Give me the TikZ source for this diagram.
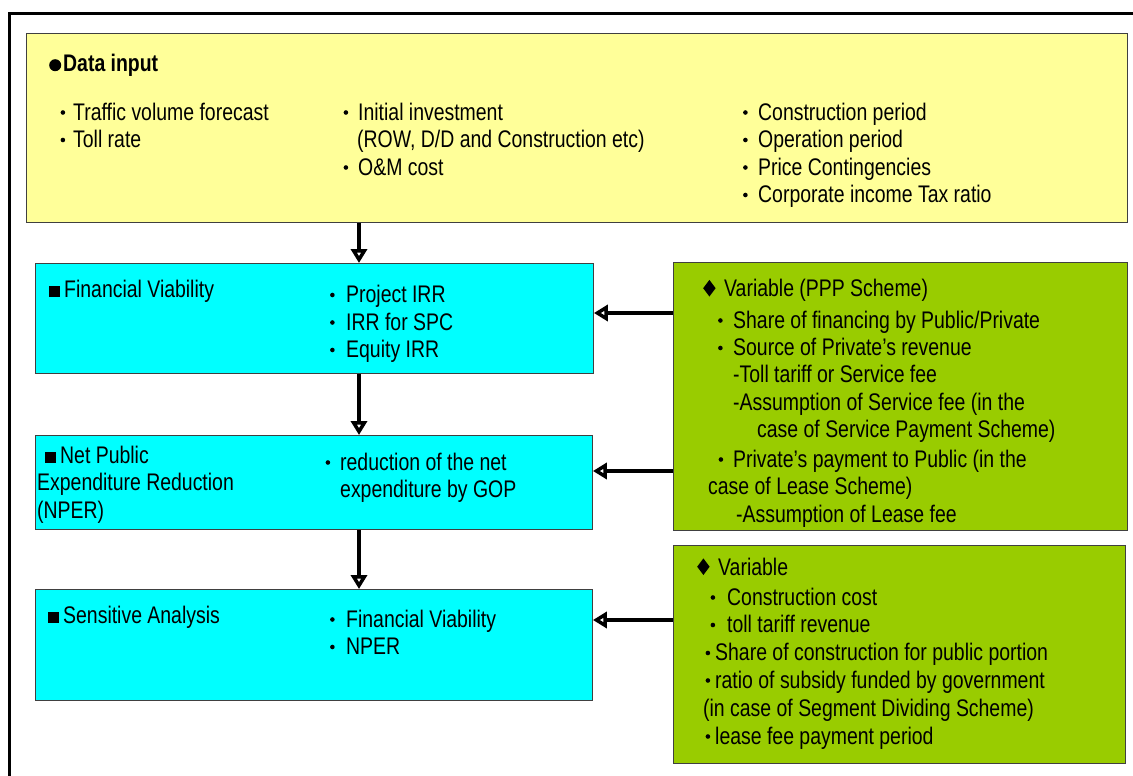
\documentclass[tikz,border=0pt]{standalone}
\usepackage{fontspec}
\setmainfont{Liberation Sans}[FakeStretch=0.81]
\usetikzlibrary{arrows.meta}

\definecolor{inputyellow}{HTML}{FFFF99}
\definecolor{stepcyan}{HTML}{00FFFF}
\definecolor{vargreen}{HTML}{99CC00}

% small round list dot placed left of the text start; #1 = gap to the text
\newcommand\dt[1]{\llap{\tikz[baseline=0pt]\fill (2.3pt,7.5pt) circle[radius=2.3pt];\hspace{#1pt}}}
% leading symbol whose left edge sits #1 pt before the text start
\newcommand\lead[2]{\llap{\makebox[#1pt][l]{#2}}}
\newcommand\sqmark{\rule{11pt}{11pt}}
\newcommand\circmark{\tikz[baseline=0pt]\fill (6pt,6.8pt) circle[radius=6pt];}
\newcommand\diamark{\tikz[baseline=0pt]\fill (0pt,8.3pt) -- (6.2pt,0pt) -- (12.4pt,8.3pt) -- (6.2pt,16.6pt) -- cycle;}

\tikzset{
  box/.style={draw=black!75, line width=0.9pt, anchor=north west, inner sep=0pt},
  txt/.style={anchor=base west, inner sep=0pt, font=\fontsize{24}{28}\selectfont},
  flow/.style={line width=4.5pt, -{Triangle[open, length=14pt, width=16pt, line width=3.8pt]}},
}

\begin{document}
\begin{tikzpicture}[x=1pt, y=-1pt]
\useasboundingbox (0,0) rectangle (1133,776);

% outer frame (open to the right and bottom)
\draw[line width=3pt] (9,776) -- (9,14) -- (1133,14);

% boxes
\node[box, fill=inputyellow, minimum width=1101pt, minimum height=189pt] (input) at (26,33) {};
\node[box, fill=stepcyan, minimum width=558pt, minimum height=110pt] (fin) at (35,263) {};
\node[box, fill=stepcyan, minimum width=557pt, minimum height=94pt] (nper) at (35,435) {};
\node[box, fill=stepcyan, minimum width=557pt, minimum height=111pt] (sens) at (35,589) {};
\node[box, fill=vargreen, minimum width=454pt, minimum height=268pt] (var1) at (673,262) {};
\node[box, fill=vargreen, minimum width=452pt, minimum height=218pt] (var2) at (673,545) {};

% data input
\node[txt] (d0) at (63,72) {\lead{14}{\circmark}\textbf{Data input}};
\node[txt] (d1) at (73,120) {\dt{8}Traffic volume forecast};
\node[txt] (d2) at (73,147.5) {\dt{8}Toll rate};
\node[txt] (d3) at (358,120) {\dt{10}Initial investment};
\node[txt] (d4) at (357,147.5) {(ROW, D/D and Construction etc)};
\node[txt] (d5) at (358,175) {\dt{10}O\&M cost};
\node[txt] (d6) at (758,120) {\dt{10.5}Construction period};
\node[txt] (d7) at (758,147.5) {\dt{10.5}Operation period};
\node[txt] (d8) at (758,175) {\dt{10.5}Price Contingencies};
\node[txt] (d9) at (758,202.5) {\dt{10.5}Corporate income Tax ratio};

% financial viability
\node[txt] (f0) at (64,297) {\lead{15}{\sqmark}Financial Viability};
\node[txt] (f1) at (346,302.5) {\dt{11.5}Project IRR};
\node[txt] (f2) at (346,330) {\dt{11.5}IRR for SPC};
\node[txt] (f3) at (346,357.5) {\dt{11.5}Equity IRR};

% net public expenditure reduction
\node[txt] (n0) at (60,463) {\lead{15}{\sqmark}Net Public};
\node[txt] (n1) at (37,490.5) {Expenditure Reduction};
\node[txt] (n2) at (37,518) {(NPER)};
\node[txt] (n3) at (340,470) {\dt{10}reduction of the net};
\node[txt] (n4) at (340,497.5) {expenditure by GOP};

% sensitive analysis
\node[txt] (s0) at (63,623) {\lead{15}{\sqmark}Sensitive Analysis};
\node[txt] (s1) at (346,627) {\dt{11.5}Financial Viability};
\node[txt] (s2) at (346,654.5) {\dt{11.5}NPER};

% PPP scheme variables
\node[txt] (v0) at (724,296.5) {\lead{21}{\diamark}Variable (PPP Scheme)};
\node[txt] (v1) at (733,328) {\dt{10.5}Share of financing by Public/Private};
\node[txt] (v2) at (733,355.5) {\dt{10.5}Source of Private's revenue};
\node[txt] (v3) at (733,382.5) {-Toll tariff or Service fee};
\node[txt] (v4) at (733,410) {-Assumption of Service fee (in the};
\node[txt] (v5) at (757,437.5) {case of Service Payment Scheme)};
\node[txt] (v6) at (733,467) {\dt{10}Private's payment to Public (in the};
\node[txt] (v7) at (708,494.5) {case of Lease Scheme)};
\node[txt] (v8) at (736,522) {-Assumption of Lease fee};

% sensitivity variables
\node[txt] (w0) at (718,575) {\lead{21}{\diamark}Variable};
\node[txt] (w1) at (727,605) {\dt{12}Construction cost};
\node[txt] (w2) at (727,632.5) {\dt{12}toll tariff revenue};
\node[txt] (w3) at (715,660.5) {\dt{5}Share of construction for public portion};
\node[txt] (w4) at (715,688) {\dt{5}ratio of subsidy funded by government};
\node[txt] (w5) at (703,716) {(in case of Segment Dividing Scheme)};
\node[txt] (w6) at (715,744) {\dt{5}lease fee payment period};

% connectors
\coordinate (vx) at (359,0);
\coordinate (h1) at (0,313);
\coordinate (h2) at (0,471);
\coordinate (h3) at (0,620);
\draw[flow] (input.south -| vx) -- (fin.north -| vx);
\draw[flow] (fin.south -| vx) -- (nper.north -| vx);
\draw[flow] (nper.south -| vx) -- (sens.north -| vx);
\draw[flow] (var1.west |- h1) -- (fin.east |- h1);
\draw[flow] (var1.west |- h2) -- (nper.east |- h2);
\draw[flow] (var2.west |- h3) -- (sens.east |- h3);
\end{tikzpicture}
\end{document}
